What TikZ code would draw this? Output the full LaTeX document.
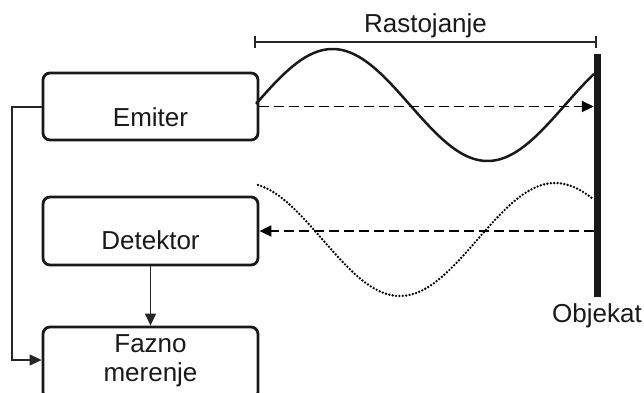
\documentclass[tikz,border=0pt]{standalone}
\usepackage{fontspec}
\setmainfont{Liberation Sans}
\usetikzlibrary{arrows.meta}
\begin{document}
\begin{tikzpicture}[x=1pt,y=-1pt,
  box/.style={draw=black!90, line width=2.8pt, rounded corners=7pt, minimum width=215pt, inner sep=0pt},
  lbl/.style={font=\fontsize{26}{30}\selectfont, text=black!90, anchor=base, inner sep=0pt},
  thinline/.style={line width=1.2pt, draw=black!85},
  tip/.style={-{Triangle[length=12pt,width=11pt]}},
  dashline/.style={line width=1.8pt, dash pattern=on 10pt off 5pt},
  dotline/.style={line width=2.6pt, dash pattern=on 0pt off 3.4pt, line cap=round},
]
\useasboundingbox (0,0) rectangle (644,392);
\clip (0,0) rectangle (644,392);
% boxes
\node[box, minimum height=67pt] (em) at (150.5,106.5) {};
\node[box, minimum height=68pt] (det) at (150.5,231) {};
\node[box, minimum height=72pt] (faz) at (150.5,363) {};
\node[lbl] (emt) at (150.5,126) {Emiter};
\node[lbl] (dett) at (150.5,249) {Detektor};
\node[lbl] (fazt1) at (150.5,352) {Fazno};
\node[lbl] (fazt2) at (150.5,381) {merenje};
% object
\node[fill=black!90, minimum width=7pt, minimum height=243pt, inner sep=0pt] (obj) at (597.5,175.5) {};
\node[lbl] (objt) at (597,322) {Objekat};
% distance
\coordinate (r1) at (255,42);
\coordinate (r2) at (596,42);
\draw[thinline] (r1) -- (r2);
\draw[thinline] ([yshift=-6pt]r1) -- ([yshift=6pt]r1);
\draw[thinline] ([yshift=-6pt]r2) -- ([yshift=6pt]r2);
\node[lbl] (rast) at (425.5,32) {Rastojanje};
% connectors
\coordinate (c1) at (12,107);
\coordinate (c2) at (12,360);
\draw[thinline, tip] (em.west |- c1) -- (c1) -- (c2) -- (faz.west |- c2);
\draw[thinline, tip] (det.south) -- (faz.north);
% waves
\draw[line width=2.5pt, black!90] plot[domain=256:594, samples=120] (\x, {105-56*sin((\x-255)*1.16129)});
\draw[dotline] plot[domain=258:594, samples=120] (\x, {239.5-56.5*cos((\x-555)*1.16129)});
% beams
\draw[dashline, tip] (em.east) -- (obj.west |- em.east);
\draw[dashline, tip] (obj.west |- det.east) -- (det.east);
\end{tikzpicture}
\end{document}
